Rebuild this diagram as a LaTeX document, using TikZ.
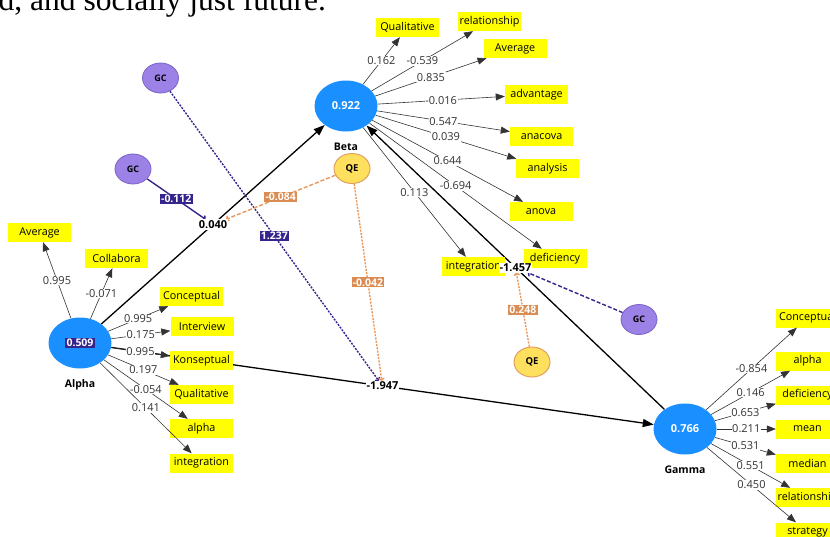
\documentclass[tikz,border=0pt]{standalone}
\usepackage{fontspec}
\setmainfont{Open Sans}
\newfontfamily\pageserif{Liberation Serif}
\usetikzlibrary{arrows.meta,positioning,shapes.geometric}

\definecolor{lvblue}{HTML}{1A8FFF}
\definecolor{mvyellow}{HTML}{FFFF00}
\definecolor{gcfill}{HTML}{9C82E6}
\definecolor{gcrim}{HTML}{7A62C8}
\definecolor{gcdark}{HTML}{35248C}
\definecolor{qefill}{HTML}{FFE05E}
\definecolor{qerim}{HTML}{E0A060}
\definecolor{qeline}{HTML}{E8965A}
\definecolor{qedark}{HTML}{DA8C52}

\pgfdeclarelayer{back}
\pgfsetlayers{back,main}

\begin{document}
\begin{tikzpicture}[x=1pt,y=-1pt,
    latent/.style={ellipse,fill=lvblue,minimum width=63pt,minimum height=51pt,inner sep=0pt,
      text=white,font=\fontsize{11}{12}\selectfont\bfseries},
    lvname/.style={inner sep=1pt,font=\fontsize{10.5}{11}\selectfont\bfseries},
    item/.style={rectangle,fill=mvyellow,minimum width=63pt,minimum height=19pt,inner sep=0pt,
      font=\fontsize{10.8}{12}\selectfont},
    gc/.style={ellipse,fill=gcfill,draw=gcrim,line width=0.8pt,minimum width=36pt,minimum height=30pt,
      inner sep=0pt,font=\fontsize{9}{9}\selectfont\bfseries},
    qe/.style={ellipse,fill=qefill,draw=qerim,line width=1pt,minimum width=36pt,minimum height=30pt,
      inner sep=0pt,font=\fontsize{9.5}{10}\selectfont\bfseries},
    load/.style={draw=black!80,line width=0.6pt,-{Triangle[length=9pt,width=7pt]}},
    loadval/.style={fill=white,inner sep=0.6pt,text=black!80,font=\fontsize{11}{12}\selectfont},
    struct/.style={draw=black,line width=1.3pt,-{Triangle[length=11pt,width=8pt]}},
    pathval/.style={fill=white,inner sep=1pt,font=\fontsize{11}{12}\selectfont\bfseries},
    modgc/.style={draw=gcdark,line width=1.4pt,-{To[length=3pt]}},
    modqe/.style={draw=qeline,line width=1.4pt,-{To[length=3pt]}},
    gcval/.style={fill=gcdark,text=white,inner sep=1.2pt,font=\fontsize{10.5}{11}\selectfont\bfseries},
    qeval/.style={fill=qedark,text=white,inner sep=1.2pt,font=\fontsize{10.5}{11}\selectfont\bfseries}
  ]
  \useasboundingbox (0,0) rectangle (830,536);
  \clip (0,0) rectangle (830,536);

  % page text above the figure
  \node[anchor=base west,inner sep=0pt,font=\pageserif\fontsize{31.5}{32}\selectfont] (pageline) at (-1.5,10) {d, and socially just future.};

  % latent variables
  \node[latent] (Alpha) at (80,343) {};
  \node[gcval] (AlphaR) at (Alpha.center) {0.509};
  \node[lvname,below=10pt of Alpha] (AlphaName) {Alpha};
  \node[latent] (Beta) at (346,106) {0.922};
  \node[lvname,below=10pt of Beta] (BetaName) {Beta};
  \node[latent] (Gamma) at (685,429) {0.766};
  \node[lvname,below=10pt of Gamma] (GammaName) {Gamma};

  % moderators
  \node[gc] (GC1) at (160.5,78) {GC};
  \node[gc] (GC2) at (133,169) {GC};
  \node[gc] (GC3) at (639,319.5) {GC};
  \node[qe] (QE1) at (352,168.5) {QE};
  \node[qe] (QE2) at (532,362) {QE};

  % indicators of Alpha
  \node[item] (a1) at (39.5,232.5) {Average};
  \node[item] (a2) at (116.5,258.5) {Collabora};
  \node[item] (a3) at (191.5,296.5) {Conceptual};
  \node[item] (a4) at (202,326.5) {Interview};
  \node[item] (a5) at (201.5,360.5) {Konseptual};
  \node[item] (a6) at (201.5,394.5) {Qualitative};
  \node[item] (a7) at (201.5,428.5) {alpha};
  \node[item] (a8) at (201.5,463) {integration};

  % indicators of Beta
  \node[item] (b1) at (407.5,27.5) {Qualitative};
  \node[item] (b2) at (489.5,21.5) {relationship};
  \node[item] (b3) at (515,48.5) {Average};
  \node[item] (b4) at (536.5,94.5) {advantage};
  \node[item] (b5) at (541.5,136.5) {anacova};
  \node[item] (b6) at (547.5,168.5) {analysis};
  \node[item] (b7) at (541,211.5) {anova};
  \node[item] (b8) at (555,258.5) {deficiency};
  \node[item] (b9) at (473.5,266.5) {integration};

  % indicators of Gamma
  \node[item] (g1) at (807.5,318) {Conceptual};
  \node[item] (g2) at (807.5,361) {alpha};
  \node[item] (g3) at (807.5,395) {deficiency};
  \node[item] (g4) at (807.5,429) {mean};
  \node[item] (g5) at (807.5,463.5) {median};
  \node[item] (g6) at (807.5,497.5) {relationship};
  \node[item] (g7) at (807.5,532) {strategy};

  % path coefficients
  \path (Alpha) -- node[pathval] (v040) {0.040} (Beta);
  \path (Alpha) -- node[pathval] (v1947) {-1.947} (Gamma);
  \path (Gamma) -- node[pathval] (v1457) {-1.457} (Beta);

  \begin{pgfonlayer}{back}
    \draw[struct] (Alpha) -- (Beta);
    \draw[struct] (Alpha) -- (Gamma);
    \draw[struct] (Gamma) -- (Beta);

    \draw[modgc] (GC2) -- node[gcval] {-0.112} (v040);
    \draw[modgc,dash pattern=on 2pt off 1.3pt] (GC1) -- node[gcval] {1.237} (v1947);
    \draw[modgc,dash pattern=on 4pt off 2pt] (GC3) -- (v1457);
    \draw[modqe,dash pattern=on 4pt off 2pt] (QE1) -- node[qeval] {-0.084} (v040);
    \draw[modqe,dash pattern=on 2pt off 1.3pt] (QE1) -- node[qeval] {-0.042} (v1947);
    \draw[modqe,dash pattern=on 2pt off 1.3pt] (QE2) -- node[qeval] {0.248} (v1457);
  \end{pgfonlayer}

  % outer loadings
  \draw[load] (Alpha) -- node[loadval] {0.995} (a1);
  \draw[load] (Alpha) -- node[loadval] {-0.071} (a2);
  \draw[load] (Alpha) -- node[loadval] {0.995} (a3);
  \draw[load] (Alpha) -- node[loadval] {0.175} (a4);
  \draw[load] (Alpha) -- node[loadval] {0.995} (a5);
  \draw[load] (Alpha) -- node[loadval] {0.197} (a6);
  \draw[load] (Alpha) -- node[loadval] {-0.054} (a7);
  \draw[load] (Alpha) -- node[loadval] {0.141} (a8);

  \draw[load] (Beta) -- node[loadval] {0.162} (b1);
  \draw[load] (Beta) -- node[loadval] {-0.539} (b2);
  \draw[load] (Beta) -- node[loadval] {0.835} (b3);
  \draw[load] (Beta) -- node[loadval] {-0.016} (b4);
  \draw[load] (Beta) -- node[loadval] {0.547} (b5);
  \draw[load] (Beta) -- node[loadval] {0.039} (b6);
  \draw[load] (Beta) -- node[loadval] {0.644} (b7);
  \draw[load] (Beta) -- node[loadval] {-0.694} (b8);
  \draw[load] (Beta) -- node[loadval] {0.113} (b9);

  \draw[load] (Gamma) -- node[loadval] {-0.854} (g1);
  \draw[load] (Gamma) -- node[loadval] {0.146} (g2);
  \draw[load] (Gamma) -- node[loadval] {0.653} (g3);
  \draw[load] (Gamma) -- node[loadval] {0.211} (g4);
  \draw[load] (Gamma) -- node[loadval] {0.531} (g5);
  \draw[load] (Gamma) -- node[loadval] {0.551} (g6);
  \draw[load] (Gamma) -- node[loadval] {0.450} (g7);
\end{tikzpicture}
\end{document}
